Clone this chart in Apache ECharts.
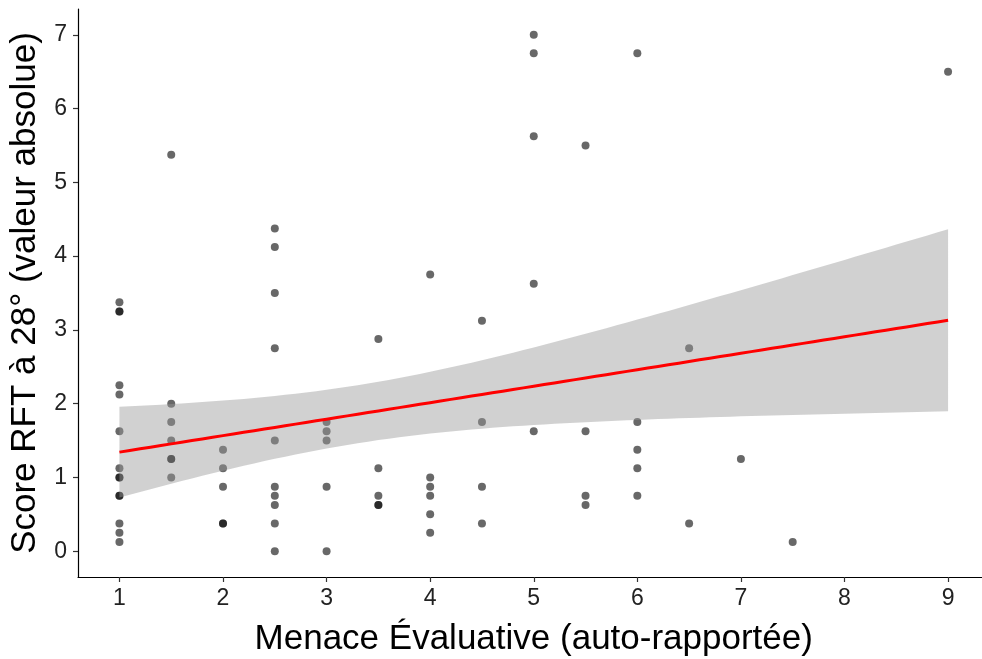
<!DOCTYPE html>
<html>
<head>
<meta charset="utf-8">
<script src="https://cdn.jsdelivr.net/npm/echarts@6/dist/echarts.min.js"></script>
<style>html,body{margin:0;padding:0;background:#fff}#c{width:982px;height:659px}</style>
</head>
<body>
<div id="c"></div>
<script>
// Observed points: x (Menace Évaluative) and y (Score RFT à 28°)
const xValues = [
  1,1,1,1,1,1,1,1,1,1,1,1,1,1,
  1.5,1.5,1.5,1.5,1.5,1.5,1.5,
  2,2,2,2,2,
  2.5,2.5,2.5,2.5,2.5,2.5,2.5,2.5,2.5,2.5,
  3,3,3,3,3,
  3.5,3.5,3.5,3.5,3.5,
  4,4,4,4,4,4,
  4.5,4.5,4.5,4.5,
  5,5,5,5,5,
  5.5,5.5,5.5,5.5,
  6,6,6,6,6,
  6.5,6.5,
  7,
  7.5,
  9
];
const yValues = [
  3.375,3.25,3.25,2.25,2.125,1.625,1.125,1,1,0.75,0.75,0.375,0.25,0.125,
  5.375,2,1.75,1.5,1.25,1.25,1,
  1.375,1.125,0.875,0.375,0.375,
  4.375,4.125,3.5,2.75,1.5,0.875,0.75,0.625,0.375,0,
  1.75,1.625,1.5,0.875,0,
  2.875,1.125,0.75,0.625,0.625,
  3.75,1,0.875,0.75,0.5,0.25,
  3.125,1.75,0.875,0.375,
  7,6.75,5.625,3.625,1.625,
  5.5,1.625,0.75,0.625,
  6.75,1.75,1.375,1.125,0.75,
  2.75,0.375,
  1.25,
  0.125,
  6.5
];
const xTicks = [1,2,3,4,5,6,7,8,9];
const yTicks = [0,1,2,3,4,5,6,7];
const xTitle = 'Menace Évaluative (auto-rapportée)';
const yTitle = 'Score RFT à 28° (valeur absolue)';

// Linear model fit (like geom_smooth(method="lm")) with 95% confidence band
const n = xValues.length;
const mx = xValues.reduce((a,b)=>a+b,0)/n;
const my = yValues.reduce((a,b)=>a+b,0)/n;
let sxx=0, sxy=0;
for (let i=0;i<n;i++){ sxx += (xValues[i]-mx)**2; sxy += (xValues[i]-mx)*(yValues[i]-my); }
const slope = sxy/sxx, icpt = my - slope*mx;
let sse=0;
for (let i=0;i<n;i++){ sse += (yValues[i]-(icpt+slope*xValues[i]))**2; }
const s = Math.sqrt(sse/(n-2));
const tq = 1.993; // t(0.975, 73)
const xmin = Math.min(...xValues), xmax = Math.max(...xValues);
const fitLine = [], lower = [], upper = [];
const steps = 80;
for (let k=0;k<=steps;k++){
  const x = xmin + (xmax-xmin)*k/steps;
  const yh = icpt + slope*x;
  const se = s*Math.sqrt(1/n + (x-mx)**2/sxx);
  fitLine.push([x, yh]);
  lower.push([x, yh - tq*se]);
  upper.push([x, yh + tq*se]);
}

const points = xValues.map((x,i)=>[x, yValues[i]]);
const FONT = '"Liberation Sans", Arial, sans-serif';
const chart = echarts.init(document.getElementById('c'), null, {renderer:'canvas'});
chart.setOption({
  animation:false,
  backgroundColor:'#ffffff',
  grid:{left:78, right:-7.5, top:9, bottom:82, containLabel:false, outerBoundsMode:'none'},
  xAxis:{
    type:'value', min:0.6, max:9.4,
    splitLine:{show:false},
    axisLine:{show:true, onZero:false, lineStyle:{color:'#000', width:1.2}},
    axisTick:{show:true, length:5, lineStyle:{color:'#333', width:1.2}, customValues:xTicks},
    axisLabel:{color:'#222', fontSize:23, fontFamily:FONT, margin:10, customValues:xTicks},
    name:xTitle, nameLocation:'middle', nameGap:45,
    nameTextStyle:{color:'#000', fontSize:35, fontFamily:FONT}
  },
  yAxis:{
    type:'value', min:-0.35, max:7.35,
    splitLine:{show:false},
    axisLine:{show:true, onZero:false, lineStyle:{color:'#000', width:1.2}},
    axisTick:{show:true, length:5, lineStyle:{color:'#333', width:1.2}, customValues:yTicks},
    axisLabel:{color:'#222', fontSize:23, fontFamily:FONT, margin:11, customValues:yTicks},
    name:yTitle, nameLocation:'middle', nameGap:28, nameRotate:90,
    nameTextStyle:{color:'#000', fontSize:35, fontFamily:FONT}
  },
  series:[
    {type:'scatter', data:points, symbolSize:8, z:2,
     itemStyle:{color:'rgba(0,0,0,0.74)'}, silent:true},
    {type:'custom', data:[0], z:3, silent:true,
     renderItem:function(params, api){
       const pts = upper.map(p=>api.coord(p)).concat(lower.slice().reverse().map(p=>api.coord(p)));
       return {type:'polygon', shape:{points:pts}, style:{fill:'rgba(153,153,153,0.45)'}};
     }},
    {type:'line', data:fitLine, symbol:'none', z:4,
     lineStyle:{color:'#ff0000', width:3}, silent:true}
  ]
});
</script>
</body>
</html>
